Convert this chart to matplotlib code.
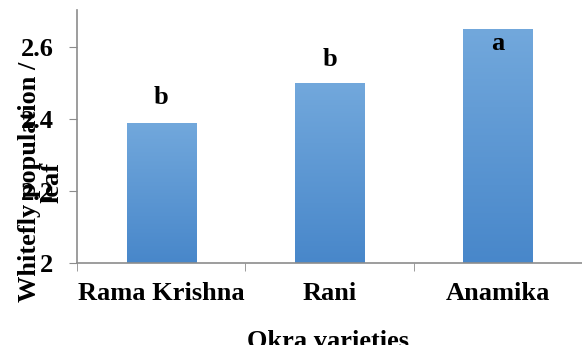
import numpy as np
import matplotlib
matplotlib.use("Agg")
import matplotlib.pyplot as plt
from matplotlib.colors import LinearSegmentedColormap

# whitefly counts per leaf for each okra variety
varieties = ["Rama Krishna", "Rani", "Anamika"]
whitefly = [2.39, 2.50, 2.65]
letters = ["b", "b", "a"]

plt.rcParams["font.family"] = ["Liberation Serif", "DejaVu Serif"]
plt.rcParams["font.weight"] = "bold"
FS = 19

fig = plt.figure(figsize=(5.82, 3.45), dpi=100)
ax = fig.add_axes([77 / 582, 1 - 263 / 345, 505 / 582, 253 / 345])

x = np.arange(len(varieties))
bars = ax.bar(x, whitefly, width=0.41, color="none", zorder=2)

# vertical gradient fill in each bar (lighter at the top)
cmap = LinearSegmentedColormap.from_list("blues", ["#4887CA", "#72A8DC"])
grad = np.linspace(0, 1, 256).reshape(-1, 1)
for b in bars:
    x0, w, h = b.get_x(), b.get_width(), b.get_height()
    im = ax.imshow(grad, cmap=cmap, origin="lower", aspect="auto",
                   extent=[x0, x0 + w, 2, h], zorder=2)
    im.set_clip_path(b)

# significance letters
offsets = [0.07, 0.066, -0.04]
for xi, v, lab, off in zip(x, whitefly, letters, offsets):
    ax.text(xi, v + off, lab, ha="center", va="center", fontsize=FS,
            fontweight="bold")

ax.set_xlim(-0.5, 2.5)
ax.set_ylim(2, 2.703)
ax.set_yticks([2, 2.2, 2.4, 2.6])
ax.set_yticklabels(["2", "2.2", "2.4", "2.6"])
ax.set_xticks(x)
ax.set_xticklabels(varieties)
ax.set_xticks([-0.5, 0.5, 1.5, 2.5], minor=True)

for s in ["top", "right"]:
    ax.spines[s].set_visible(False)
for s in ["left", "bottom"]:
    ax.spines[s].set_color("#8C8C8C")
    ax.spines[s].set_linewidth(1.2)

ax.tick_params(axis="y", which="major", length=6, color="#8C8C8C",
               labelsize=FS, pad=11)
ax.tick_params(axis="x", which="major", length=0, labelsize=FS, pad=14)
ax.tick_params(axis="x", which="minor", length=6, color="#8C8C8C",
               direction="out")

ax.set_xlabel("Okra varieties", fontsize=FS, fontweight="bold")
ax.xaxis.label.set_va("baseline")
ax.xaxis.set_label_coords(0.497, -0.335)

fig.text(30 / 582, 1 - 182 / 345, "Whitefly population /", rotation=90,
         ha="center", va="center", fontsize=FS, fontweight="bold")
fig.text(52 / 582, 1 - 182 / 345, "leaf", rotation=90,
         ha="center", va="center", fontsize=FS, fontweight="bold")

fig.savefig("out.png", dpi=100)
